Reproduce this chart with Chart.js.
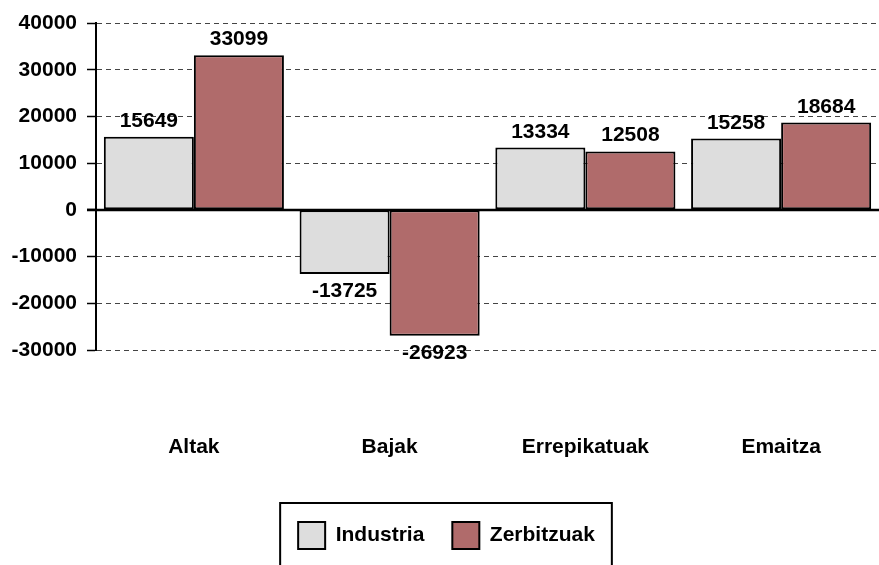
<!DOCTYPE html>
<html>
<head>
<meta charset="utf-8">
<script src="https://cdn.jsdelivr.net/npm/chart.js@4.4.0/dist/chart.umd.min.js"></script>
<style>
  body { margin: 0; background: #fff; }
  #wrap { width: 879px; height: 565px; position: relative; }
</style>
</head>
<body>
<div id="wrap"><canvas id="chart"></canvas></div>
<script>
const categories = ["Altak", "Bajak", "Errepikatuak", "Emaitza"];
const industria = [15649, -13725, 13334, 15258];
const zerbitzuak = [33099, -26923, 12508, 18684];
const yMin = -30000;
const yMax = 40000;
const yStep = 10000;

const FONT = "'Liberation Sans', Arial, sans-serif";
const FS = 21;
Chart.defaults.font.family = FONT;
Chart.defaults.font.size = FS;
Chart.defaults.font.weight = "bold";
Chart.defaults.color = "#000";

// value labels above / below each bar
const valueLabels = {
    id: "valueLabels",
    afterDatasetsDraw(chart) {
        const ctx = chart.ctx;
        ctx.save();
        ctx.font = "bold " + FS + "px " + FONT;
        ctx.fillStyle = "#000";
        ctx.textAlign = "center";
        ctx.textBaseline = "alphabetic";
        chart.data.datasets.forEach((ds, i) => {
            chart.getDatasetMeta(i).data.forEach((bar, j) => {
                const v = ds.data[j];
                const y = v >= 0 ? bar.y - 10 : bar.y + 23;
                ctx.fillText(String(v), bar.x, y);
            });
        });
        ctx.restore();
    }
};

// solid zero line across the plot
const zeroLine = {
    id: "zeroLine",
    afterDatasetsDraw(chart) {
        const ctx = chart.ctx;
        const y = Math.round(chart.scales.y.getPixelForValue(0));
        ctx.save();
        ctx.strokeStyle = "#000";
        ctx.lineWidth = 2.5;
        ctx.beginPath();
        ctx.moveTo(chart.chartArea.left - 9, y);
        ctx.lineTo(chart.chartArea.right, y);
        ctx.stroke();
        ctx.restore();
    }
};

// nudge the legend a little right, then frame it
const legendFrame = {
    id: "legendFrame",
    afterLayout(chart) {
        chart.legend.left += 7;
        chart.legend.right += 7;
    },
    afterDraw(chart) {
        const lg = chart.legend;
        const hb = lg.legendHitBoxes;
        if (!hb || !hb.length) return;
        const last = hb[hb.length - 1];
        const left = hb[0].left - 18;
        const right = last.left + last.width + 17;
        const top = lg.top + lg.options.labels.padding - 19;
        const ctx = chart.ctx;
        ctx.save();
        ctx.strokeStyle = "#000";
        ctx.lineWidth = 2;
        ctx.strokeRect(left, top, right - left, chart.height - top + 10);
        ctx.restore();
    }
};

new Chart(document.getElementById("chart"), {
    type: "bar",
    data: {
        labels: categories,
        datasets: [{
            label: "Industria",
            data: industria,
            backgroundColor: "#dddddd",
            borderColor: "#000",
            borderWidth: 2,
            borderSkipped: false,
            categoryPercentage: 0.92,
            barPercentage: 1.0
        }, {
            label: "Zerbitzuak",
            data: zerbitzuak,
            backgroundColor: "#b06b6b",
            borderColor: "#000",
            borderWidth: 2,
            borderSkipped: false,
            categoryPercentage: 0.92,
            barPercentage: 1.0
        }]
    },
    options: {
        responsive: true,
        maintainAspectRatio: false,
        animation: false,
        layout: { padding: { top: 23, right: 0, bottom: 6, left: 0 } },
        plugins: {
            legend: {
                position: "bottom",
                labels: {
                    boxWidth: 27,
                    boxHeight: 27,
                    padding: 28,
                    font: { size: FS, weight: "bold" },
                    color: "#000"
                }
            },
            tooltip: { enabled: false }
        },
        scales: {
            x: {
                grid: { display: false, drawTicks: false },
                border: { display: false },
                ticks: { padding: 85, font: { size: FS, weight: "bold" } },
                afterFit: s => {
                    s.height = 144;
                    s.paddingLeft = 0;
                    s.paddingRight = 0;
                }
            },
            y: {
                min: yMin,
                max: yMax,
                ticks: {
                    stepSize: yStep,
                    padding: 10,
                    font: { size: FS, weight: "bold" },
                    callback: v => String(v)
                },
                grid: {
                    color: "#444",
                    lineWidth: 1,
                    tickLength: 9,
                    tickColor: "#000",
                    tickWidth: 1.5,
                    tickBorderDash: []
                },
                border: { display: true, color: "#000", width: 2, dash: [5, 4] },
                afterFit: s => { s.width = 96; }
            }
        }
    },
    plugins: [zeroLine, valueLabels, legendFrame]
});
</script>
</body>
</html>
